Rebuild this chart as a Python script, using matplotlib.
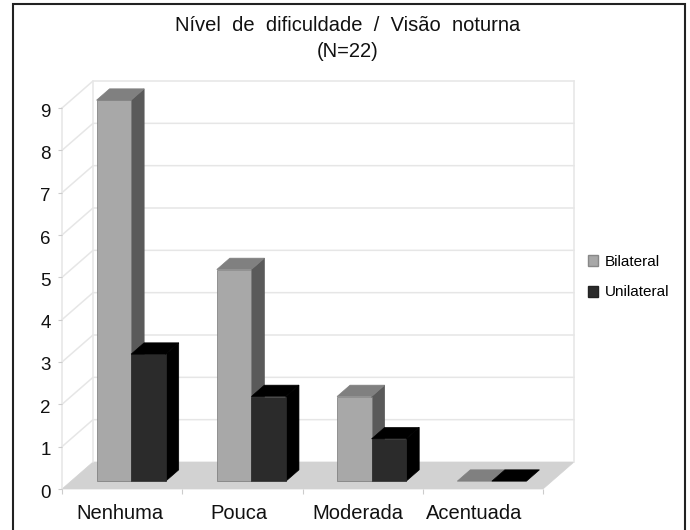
import matplotlib
matplotlib.use("Agg")
import matplotlib.pyplot as plt
from matplotlib.patches import Polygon, Patch, Rectangle
from matplotlib.transforms import ScaledTranslation

plt.rcParams['font.family'] = ['Liberation Sans', 'DejaVu Sans']

categories = ["Nenhuma", "Pouca", "Moderada", "Acentuada"]
bilateral = [9, 5, 2, 0]
unilateral = [3, 2, 1, 0]
series_names = ["Bilateral", "Unilateral"]
title_text = "Nível  de  dificuldade  /  Visão  noturna\n(N=22)"
y_ticks = list(range(10))
label_positions = [0.482, 1.472, 2.458, 3.43]

W, H = 690, 530
fig = plt.figure(figsize=(W / 100, H / 100), dpi=100)
fig.patch.set_facecolor("white")
fig.add_artist(Rectangle((12.5 / W, -5 / H), 672.5 / W, 531.5 / H, transform=fig.transFigure,
                         fill=False, edgecolor="#222222", linewidth=1.5))

ax = fig.add_axes([62 / W, (H - 489) / H, 481 / W, 381 / H])
ax.set_xlim(0, 4)
ax.set_ylim(0, 9)
ax.patch.set_visible(False)
for s in ax.spines.values():
    s.set_visible(False)

# depth direction, in data units per unit of depth
DX, DY = 31 / 120.25, 27 / 42.33


def P(x, y, z):
    return (x + z * DX, y + z * DY)


def poly(pts, color, zorder=2, ec=None, lw=0.5):
    ax.add_patch(Polygon(pts, closed=True, facecolor=color, edgecolor=ec or color,
                         linewidth=lw, clip_on=False, zorder=zorder))


# floor
poly([P(0, 0, 0), P(4, 0, 0), P(4, 0, 1), P(0, 0, 1)], "#d2d2d2", 1)
# walls and grid
GRID = "#e6e6e6"
for v in y_ticks[1:]:
    a, b, c = P(0, v, 0), P(0, v, 1), P(4, v, 1)
    ax.plot([a[0], b[0], c[0]], [a[1], b[1], c[1]], color=GRID, lw=1.1, clip_on=False, zorder=1)
for x0, v0, z0, x1, v1, z1 in [(0, 0, 0, 0, 9, 0), (0, 0, 1, 0, 9, 1), (4, 0, 1, 4, 9, 1)]:
    a, b = P(x0, v0, z0), P(x1, v1, z1)
    ax.plot([a[0], b[0]], [a[1], b[1]], color=GRID, lw=1.1, clip_on=False, zorder=1)

# bars
BAR_W = 0.2875
Z0, Z1 = 0.29, 0.71
styles = [("#a8a8a8", "#5a5a5a", "#808080"), ("#2b2b2b", "#000000", "#000000")]
for i, (b, u) in enumerate(zip(bilateral, unilateral)):
    for k, v in enumerate((b, u)):
        x0 = i + 0.5 - BAR_W + k * BAR_W
        x1 = x0 + BAR_W
        front, side, top = styles[k]
        if v > 0:
            poly([P(x1, 0, Z0), P(x1, 0, Z1), P(x1, v, Z1), P(x1, v, Z0)], side, 3 + i + k * 0.5)
            poly([P(x0, 0, Z0), P(x1, 0, Z0), P(x1, v, Z0), P(x0, v, Z0)], front, 3 + i + k * 0.5,
                 ec="#777777" if k == 0 else front)
        poly([P(x0, v, Z0), P(x1, v, Z0), P(x1, v, Z1), P(x0, v, Z1)], top, 3 + i + k * 0.5)

# axes ticks
ax.set_yticks(y_ticks)
ax.set_yticklabels([str(v) for v in y_ticks], fontsize=13.5, color="#111111")
ax.tick_params(axis="y", length=3, width=0.8, color="#cccccc", pad=5)
shift = ScaledTranslation(0, -2 / 100, fig.dpi_scale_trans)
for lbl in ax.get_yticklabels():
    lbl.set_transform(lbl.get_transform() + shift)
ax.set_xticks(label_positions)
ax.set_xticklabels(categories, fontsize=14.5, color="#111111")
ax.tick_params(axis="x", which="major", length=0, pad=10.5)
ax.set_xticks(range(5), minor=True)
ax.tick_params(axis="x", which="minor", length=3.5, width=0.8, color="#cccccc")

fig.text(348 / W, 1 - 38.5 / H, title_text, ha="center", va="center", fontsize=14.5,
         color="#111111", linespacing=1.42)

ax.legend(handles=[Patch(facecolor=styles[0][0], edgecolor="#888888", label=series_names[0]),
                   Patch(facecolor=styles[1][0], edgecolor="#222222", label=series_names[1])],
          loc="center left", bbox_to_anchor=(588 / W, 1 - 277 / H), bbox_transform=fig.transFigure,
          frameon=False, fontsize=11, handlelength=0.68, handleheight=0.72, handletextpad=0.42,
          labelspacing=1.1, borderpad=0, borderaxespad=0)

fig.savefig("out.png", dpi=100)
